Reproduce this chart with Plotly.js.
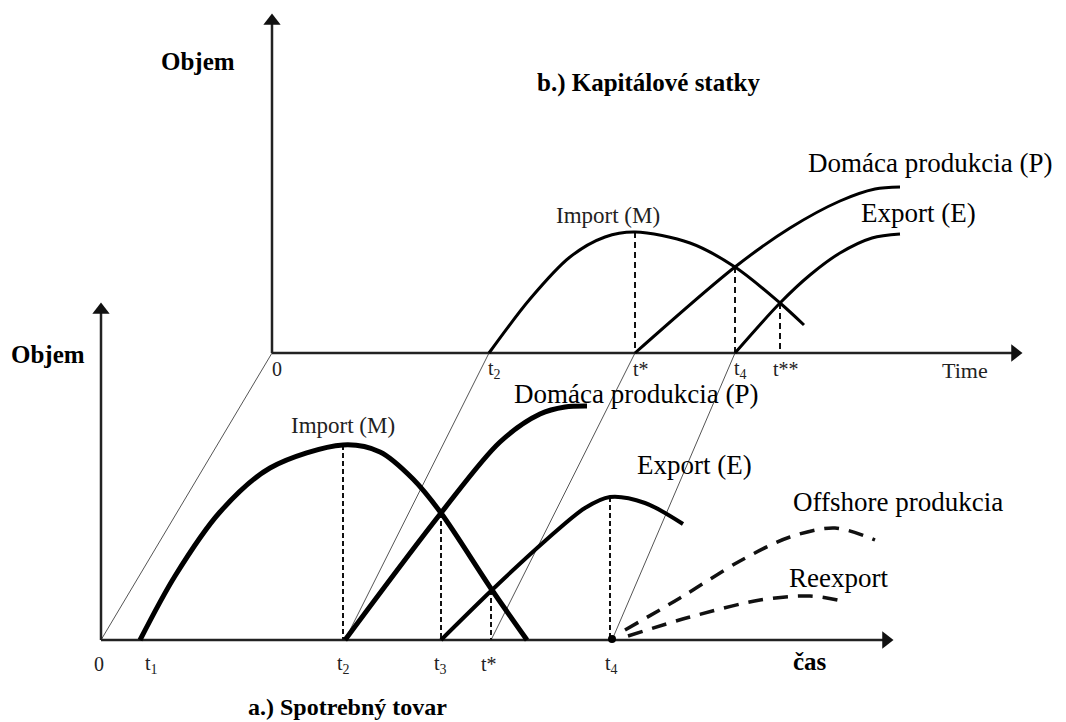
<!DOCTYPE html>
<html>
<head>
<meta charset="utf-8">
<script src="https://cdn.plot.ly/plotly-3.0.1.min.js"></script>
<style>html,body{margin:0;padding:0;background:#fff;}#chart{width:1066px;height:722px;}</style>
</head>
<body>
<div id="chart"></div>
<script>
// ---- Panel a.) Spotrebný tovar (y grows downward) ----
const aImportX = [140, 175, 220, 270, 343, 380, 413, 441, 492, 527];
const aImportY = [640, 576, 512, 468, 445, 452, 479, 513, 590, 640];
const aProdX = [345, 441, 500, 540, 565, 587];
const aProdY = [640, 513, 442, 414, 407, 406];
const aExportX = [441, 492, 545, 585, 610, 645, 683];
const aExportY = [640, 590, 541, 508, 497, 503, 524];
const aOffshoreX = [625, 680, 740, 790, 835, 875];
const aOffshoreY = [630, 598, 561, 537, 528, 540];
const aReexportX = [628, 690, 760, 810, 847];
const aReexportY = [636, 617, 600, 596, 602];
const aGuideX = [343, 441, 491, 610];
const aGuideTop = [445, 513, 590, 497];
const aTickX = [99, 151, 343, 440, 489, 611];
const aTickLabels = ['0', 't<sub>1</sub>', 't<sub>2</sub>', 't<sub>3</sub>', 't*', 't<sub>4</sub>'];

// ---- Panel b.) Kapitálové statky ----
const bImportX = [489, 530, 570, 605, 635, 690, 735, 780, 804];
const bImportY = [353, 299, 257, 237, 232, 243, 267, 303, 325];
const bProdX = [635, 735, 790, 840, 875, 900];
const bProdY = [353, 267, 228, 201, 189, 187];
const bExportX = [735, 780, 810, 840, 872, 900];
const bExportY = [353, 303, 275, 253, 238, 234];
const bGuideX = [635, 735, 780];
const bGuideTop = [232, 267, 303];
const bTickX = [277, 494, 641, 740, 786];
const bTickLabels = ['0', 't<sub>2</sub>', 't*', 't<sub>4</sub>', 't**'];

// ---- projection lines between the two panels ----
const connFromX = [101, 345, 491, 612];
const connToX = [272, 489, 635, 735];

// ---- axes ----
const aOrigin = [101, 640], aXEnd = 893, aYEnd = 303;
const bOrigin = [272, 353], bXEnd = 1022, bYEnd = 14;

const serif = 'Liberation Serif, Times New Roman, serif';
const traces = [];
function line(x, y, w, dash, color, shape) {
  traces.push({x: x, y: y, mode: 'lines', type: 'scatter', hoverinfo: 'skip',
    line: {color: color || '#000', width: w, dash: dash || 'solid', shape: shape || 'linear', smoothing: 0.9}});
}
function head(x, y, sym) {
  traces.push({x: [x], y: [y], mode: 'markers', type: 'scatter', hoverinfo: 'skip',
    marker: {symbol: sym, size: 15, color: '#111', line: {width: 0}}});
}
// connectors (thin)
connFromX.forEach((fx, i) => line([fx, connToX[i]], [aOrigin[1], bOrigin[1]], 1, 'solid', '#555'));
// axes
line([aOrigin[0], aXEnd - 10], [aOrigin[1], aOrigin[1]], 2.5, 'solid', '#222');
line([aOrigin[0], aOrigin[0]], [aOrigin[1], aYEnd + 10], 2.5, 'solid', '#222');
line([bOrigin[0], bXEnd - 10], [bOrigin[1], bOrigin[1]], 2.5, 'solid', '#222');
line([bOrigin[0], bOrigin[0]], [bOrigin[1], bYEnd + 10], 2.5, 'solid', '#222');
head(aXEnd - 7, aOrigin[1], 'triangle-right');
head(aOrigin[0], aYEnd + 7, 'triangle-up');
head(bXEnd - 7, bOrigin[1], 'triangle-right');
head(bOrigin[0], bYEnd + 7, 'triangle-up');
// guides
aGuideX.forEach((gx, i) => line([gx, gx], [aGuideTop[i], aOrigin[1]], 2, '5px,3px', '#111'));
bGuideX.forEach((gx, i) => line([gx, gx], [bGuideTop[i], bOrigin[1]], 2, '6px,4px', '#111'));
// panel a curves
line(aImportX, aImportY, 5, 'solid', '#000', 'spline');
line(aProdX, aProdY, 5, 'solid', '#000', 'spline');
line(aExportX, aExportY, 4, 'solid', '#000', 'spline');
line(aOffshoreX, aOffshoreY, 3.5, '15px,10px', '#111', 'spline');
line(aReexportX, aReexportY, 3.5, '15px,10px', '#111', 'spline');
// panel b curves
line(bImportX, bImportY, 3, 'solid', '#000', 'spline');
line(bProdX, bProdY, 3, 'solid', '#000', 'spline');
line(bExportX, bExportY, 3, 'solid', '#000', 'spline');
// dot at t4
traces.push({x: [aTickX[5] + 1], y: [aOrigin[1] - 1], mode: 'markers', type: 'scatter', hoverinfo: 'skip',
  marker: {color: '#000', size: 8}});

const ann = [];
function txt(x, y, t, size, bold, color) {
  ann.push({x: x, y: y, xref: 'x', yref: 'y', showarrow: false, text: bold ? '<b>' + t + '</b>' : t,
    font: {family: serif, size: size, color: color || '#000'}, xanchor: 'center', yanchor: 'middle'});
}
aTickX.forEach((tx, i) => txt(tx, 664, aTickLabels[i], 20, false, '#222'));
bTickX.forEach((tx, i) => txt(tx, 369, bTickLabels[i], 20, false, '#222'));
txt(198, 61, 'Objem', 25, true);
txt(648, 83, 'b.) Kapitálové statky', 25, true);
txt(48, 354, 'Objem', 25, true);
txt(343, 425, 'Import (M)', 23, false, '#222');
txt(608, 215, 'Import (M)', 23, false, '#222');
txt(930, 163, 'Domáca produkcia (P)', 27);
txt(918, 213, 'Export (E)', 27);
txt(636, 394, 'Domáca produkcia (P)', 27);
txt(694, 465, 'Export (E)', 27);
txt(898, 502, 'Offshore produkcia', 27);
txt(838, 578, 'Reexport', 27);
txt(810, 661, 'čas', 25, true);
txt(965, 370, 'Time', 22, false, '#222');
txt(347, 707, 'a.) Spotrebný tovar', 24, true);

const layout = {
  width: 1066, height: 722, margin: {l: 0, r: 0, t: 0, b: 0},
  paper_bgcolor: '#fff', plot_bgcolor: '#fff', showlegend: false,
  xaxis: {range: [0, 1066], visible: false, fixedrange: true},
  yaxis: {range: [722, 0], visible: false, fixedrange: true},
  annotations: ann
};
Plotly.newPlot('chart', traces, layout, {displayModeBar: false, staticPlot: true});
</script>
</body>
</html>
